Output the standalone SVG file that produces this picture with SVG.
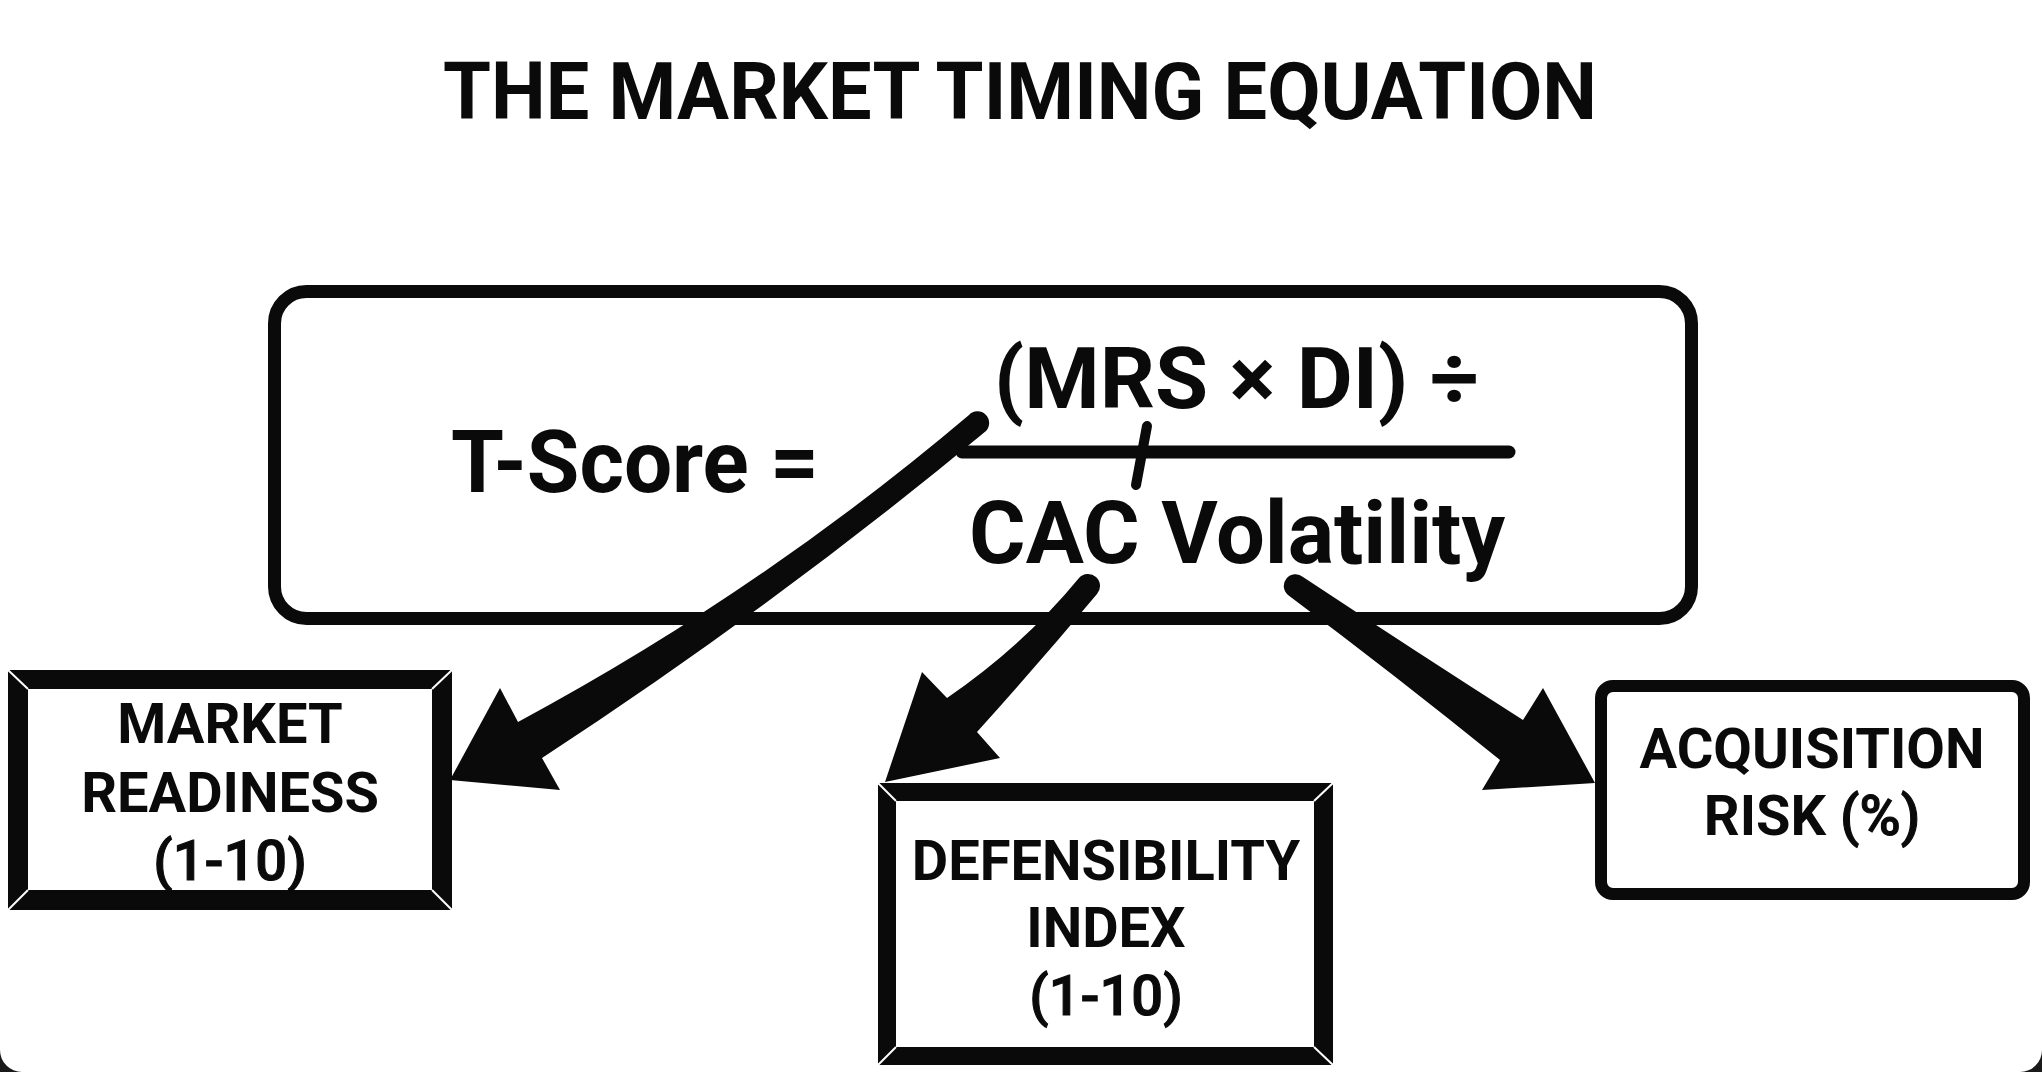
<svg xmlns="http://www.w3.org/2000/svg" width="2042" height="1072" viewBox="0 0 2042 1072">
  <style>
    .t { font-family: Roboto, "Liberation Sans", Arial, sans-serif; fill: #0a0a0a; }
    .b { font-weight: 700; }
    .m { font-weight: 500; stroke: #0a0a0a; stroke-width: 1.1; }
    .lbl { font-size: 56px; text-anchor: middle; }
    .frame-out { fill: #0a0a0a; }
    .frame-in { fill: #ffffff; }
    .bevel { stroke: #ffffff; stroke-width: 2; }
    .arrow { fill: #0a0a0a; stroke: none; }
    .line { stroke: #0a0a0a; stroke-linecap: round; fill: none; }
    .corner { fill: #1a1a1a; }
  </style>
  <rect x="0" y="0" width="2042" height="1072" fill="#ffffff"/>
  <path class="corner" d="M 0,1050 A 22,22 0 0 0 22,1072 L 0,1072 Z"/>
  <path class="corner" d="M 2042,1050 A 22,22 0 0 1 2020,1072 L 2042,1072 Z"/>

  <text id="title" class="t b" x="1020" y="119" font-size="79" text-anchor="middle" textLength="1154" lengthAdjust="spacingAndGlyphs">THE MARKET TIMING EQUATION</text>

  <g id="equation">
    <rect x="274.5" y="291.5" width="1417" height="327" rx="32" ry="32" fill="#ffffff" stroke="#0a0a0a" stroke-width="13"/>
    <text class="t b" x="451" y="492" font-size="87" textLength="368" lengthAdjust="spacingAndGlyphs">T-Score =</text>
    <text class="t b" x="994" y="408" font-size="85" textLength="485" lengthAdjust="spacingAndGlyphs">(MRS × DI) ÷</text>
    <line class="line" x1="962" y1="452" x2="1509" y2="452" stroke-width="13"/>
    <line class="line" x1="1147" y1="426" x2="1136" y2="485" stroke-width="10"/>
    <text class="t b" x="969" y="563" font-size="88" textLength="536" lengthAdjust="spacingAndGlyphs">CAC Volatility</text>
  </g>

  <g id="connectors">
    <path class="arrow" d="M 969,415 Q 760,592 518,722 L 500,688 L 450,780 L 560,790 L 542,758 Q 775,606 986,431 A 11,11 0 0 0 969,415 Z"/>
    <path class="arrow" d="M 1079,578 Q 1024,645 947,698 L 922,672 L 885,782 L 1000,758 L 977,732 Q 1040,662 1097,594 A 11,11 0 0 0 1079,578 Z"/>
    <path class="arrow" d="M 1303,577 Q 1418,653 1523,720 L 1543,688 L 1595,783 L 1482,790 L 1500,760 Q 1395,675 1288,595 A 11,11 0 0 1 1303,577 Z"/>
  </g>

  <g id="market-readiness">
    <rect class="frame-out" x="8" y="670" width="444" height="240"/>
    <rect class="frame-in" x="28" y="689" width="404" height="201"/>
    <line class="bevel" x1="8" y1="670" x2="28" y2="689"/>
    <line class="bevel" x1="452" y1="670" x2="432" y2="689"/>
    <line class="bevel" x1="8" y1="910" x2="28" y2="890"/>
    <line class="bevel" x1="452" y1="910" x2="432" y2="890"/>
    <text class="t b lbl" x="230" y="743">MARKET</text>
    <text class="t b lbl" x="230" y="812">READINESS</text>
    <text class="t m lbl" x="230" y="880">(1-10)</text>
  </g>

  <g id="defensibility-index">
    <rect class="frame-out" x="878" y="783" width="455" height="282"/>
    <rect class="frame-in" x="896" y="801" width="418" height="246"/>
    <line class="bevel" x1="878" y1="783" x2="896" y2="801"/>
    <line class="bevel" x1="1333" y1="783" x2="1314" y2="801"/>
    <line class="bevel" x1="878" y1="1065" x2="896" y2="1047"/>
    <line class="bevel" x1="1333" y1="1065" x2="1314" y2="1047"/>
    <text class="t b lbl" x="1106" y="880">DEFENSIBILITY</text>
    <text class="t b lbl" x="1106" y="947">INDEX</text>
    <text class="t m lbl" x="1106" y="1015">(1-10)</text>
  </g>

  <g id="acquisition-risk">
    <rect x="1601" y="686" width="423" height="208" rx="12" ry="12" fill="#ffffff" stroke="#0a0a0a" stroke-width="12"/>
    <text class="t b lbl" x="1812" y="768">ACQUISITION</text>
    <text class="t b lbl" x="1812" y="835">RISK <tspan class="m">(%)</tspan></text>
  </g>
</svg>
